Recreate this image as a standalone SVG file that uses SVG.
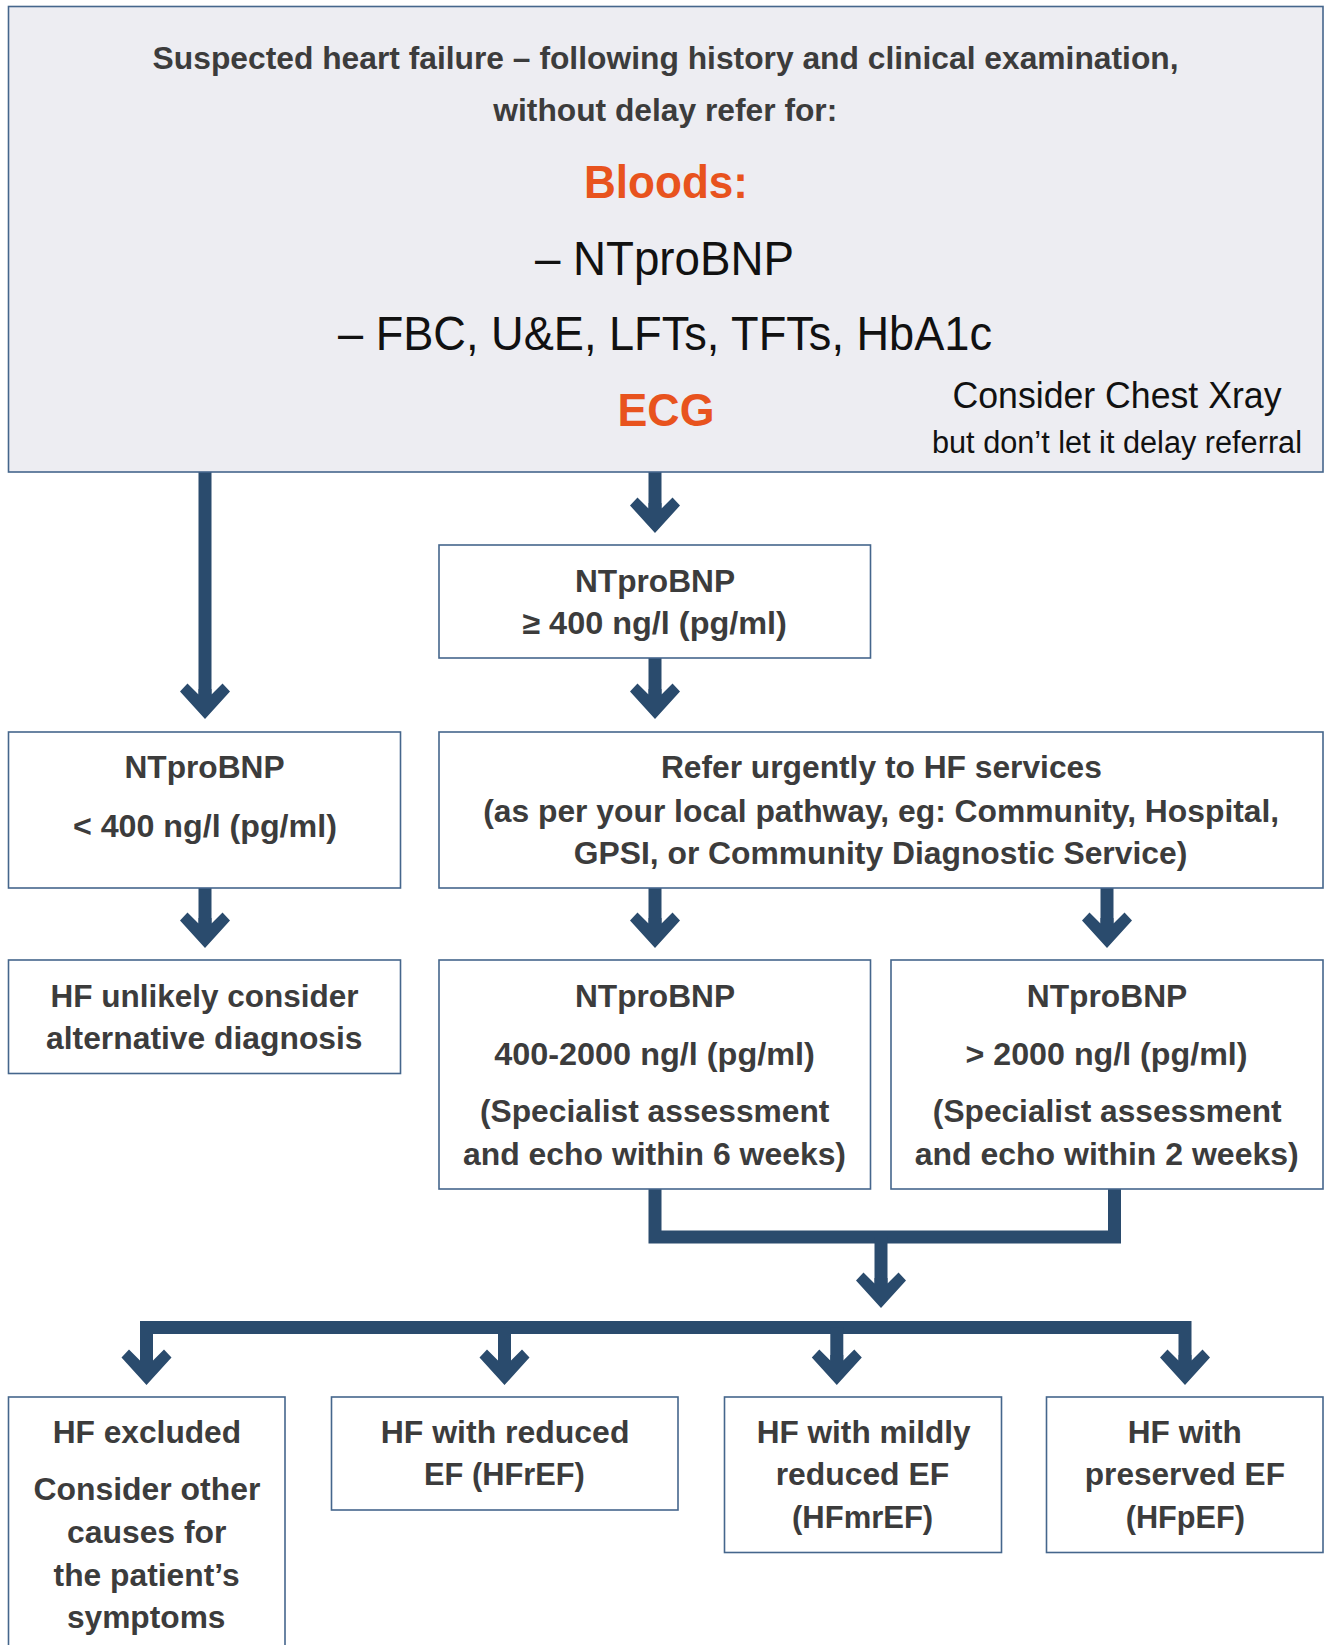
<svg xmlns="http://www.w3.org/2000/svg" xmlns:xlink="http://www.w3.org/1999/xlink" width="1325" height="1645" viewBox="0 0 1325 1645">
<style>
.box{fill:#ffffff;stroke:#45668c;stroke-width:1.6}
.topbox{fill:#ededf2;stroke:#45668c;stroke-width:1.6}
.t{font-family:"Liberation Sans",Arial,Helvetica,sans-serif;font-weight:bold;font-size:31.5px;fill:#3c3c3c;text-anchor:middle}
.big{font-family:"Liberation Sans",Arial,Helvetica,sans-serif;font-size:48px;fill:#111111;text-anchor:middle}
.or{font-family:"Liberation Sans",Arial,Helvetica,sans-serif;font-weight:bold;font-size:47px;fill:#e8531e;text-anchor:middle}
.reg{font-family:"Liberation Sans",Arial,Helvetica,sans-serif;font-size:36.5px;fill:#111111;text-anchor:middle}
.sm{font-family:"Liberation Sans",Arial,Helvetica,sans-serif;font-size:31px;fill:#111111;text-anchor:middle}
.c{fill:none;stroke:#2a4b6d;stroke-width:13;stroke-linejoin:miter;stroke-linecap:butt}
.ah{fill:#2a4b6d}
</style>
<defs>
<path id="ah" d="M0,0 L-25,-27.5 L-17.5,-35.5 L-6.5,-24.5 L-6.5,-30 L6.5,-30 L6.5,-24.5 L17.5,-35.5 L25,-27.5 Z"/>
</defs>

<g id="connectors">
<path class="c" d="M205,472 V700"/>
<use href="#ah" class="ah" x="205" y="719"/>
<path class="c" d="M655,472 V512"/>
<use href="#ah" class="ah" x="655" y="533"/>
<path class="c" d="M655,658 V700"/>
<use href="#ah" class="ah" x="655" y="719"/>
<path class="c" d="M205,888 V928"/>
<use href="#ah" class="ah" x="205" y="948"/>
<path class="c" d="M655,888 V928"/>
<use href="#ah" class="ah" x="655" y="948"/>
<path class="c" d="M1107,888 V928"/>
<use href="#ah" class="ah" x="1107" y="948"/>
<path class="c" d="M655,1189 V1237 H1114.5 V1189"/>
<path class="c" d="M881,1237 V1288"/>
<use href="#ah" class="ah" x="881" y="1308"/>
<path class="c" d="M146.5,1366 V1327.5 H1185 V1366"/>
<path class="c" d="M504.5,1327.5 V1366"/>
<path class="c" d="M836.8,1327.5 V1366"/>
<use href="#ah" class="ah" x="146.5" y="1385"/>
<use href="#ah" class="ah" x="504.5" y="1385"/>
<use href="#ah" class="ah" x="836.8" y="1385"/>
<use href="#ah" class="ah" x="1185" y="1385"/>
</g>

<g id="node-start">
<rect class="topbox" x="8.5" y="6.5" width="1314.5" height="465.5"/>
<text class="t" x="665.6" y="69.3" textLength="1026" lengthAdjust="spacingAndGlyphs">Suspected heart failure – following history and clinical examination,</text>
<text class="t" x="665.3" y="120.7" textLength="344" lengthAdjust="spacingAndGlyphs">without delay refer for:</text>
<text class="or" x="666" y="198.3" textLength="164" lengthAdjust="spacingAndGlyphs">Bloods:</text>
<text class="big" x="664.4" y="275" textLength="259" lengthAdjust="spacingAndGlyphs">– NTproBNP</text>
<text class="big" x="665" y="350" textLength="654" lengthAdjust="spacingAndGlyphs">– FBC, U&amp;E, LFTs, TFTs, HbA1c</text>
<text class="or" x="666" y="426" textLength="97" lengthAdjust="spacingAndGlyphs">ECG</text>
<text class="reg" x="1117" y="408.3" textLength="329" lengthAdjust="spacingAndGlyphs">Consider Chest Xray</text>
<text class="sm" x="1117" y="452.7" textLength="370" lengthAdjust="spacingAndGlyphs">but don’t let it delay referral</text>
</g>

<g id="node-ge400">
<rect class="box" x="439" y="545" width="431.5" height="113"/>
<text class="t" x="655" y="591.7" textLength="160" lengthAdjust="spacingAndGlyphs">NTproBNP</text>
<text class="t" x="654.6" y="634.3" textLength="264.6" lengthAdjust="spacingAndGlyphs">≥ 400 ng/l (pg/ml)</text>
</g>

<g id="node-lt400">
<rect class="box" x="8.5" y="732" width="392" height="156"/>
<text class="t" x="204.5" y="778.3" textLength="160" lengthAdjust="spacingAndGlyphs">NTproBNP</text>
<text class="t" x="204.9" y="836.7" textLength="264" lengthAdjust="spacingAndGlyphs">&lt; 400 ng/l (pg/ml)</text>
</g>

<g id="node-refer">
<rect class="box" x="439" y="732" width="884" height="156"/>
<text class="t" x="881.4" y="778.3" textLength="441" lengthAdjust="spacingAndGlyphs">Refer urgently to HF services</text>
<text class="t" x="881.2" y="821.7" textLength="796" lengthAdjust="spacingAndGlyphs">(as per your local pathway, eg: Community, Hospital,</text>
<text class="t" x="880.5" y="864" textLength="613.5" lengthAdjust="spacingAndGlyphs">GPSI, or Community Diagnostic Service)</text>
</g>

<g id="node-unlikely">
<rect class="box" x="8.5" y="960" width="392" height="113.5"/>
<text class="t" x="204.5" y="1006.7" textLength="308" lengthAdjust="spacingAndGlyphs">HF unlikely consider</text>
<text class="t" x="204.3" y="1049.3" textLength="316.5" lengthAdjust="spacingAndGlyphs">alternative diagnosis</text>
</g>

<g id="node-400-2000">
<rect class="box" x="439" y="960" width="431.5" height="229"/>
<text class="t" x="655" y="1006.7" textLength="160" lengthAdjust="spacingAndGlyphs">NTproBNP</text>
<text class="t" x="654.5" y="1065" textLength="320.7" lengthAdjust="spacingAndGlyphs">400-2000 ng/l (pg/ml)</text>
<text class="t" x="654.7" y="1121.7" textLength="349.5" lengthAdjust="spacingAndGlyphs">(Specialist assessment</text>
<text class="t" x="654.5" y="1165" textLength="383" lengthAdjust="spacingAndGlyphs">and echo within 6 weeks)</text>
</g>

<g id="node-gt2000">
<rect class="box" x="891" y="960" width="432" height="229"/>
<text class="t" x="1107" y="1006.7" textLength="160.5" lengthAdjust="spacingAndGlyphs">NTproBNP</text>
<text class="t" x="1106.5" y="1065" textLength="282" lengthAdjust="spacingAndGlyphs">&gt; 2000 ng/l (pg/ml)</text>
<text class="t" x="1107.2" y="1121.7" textLength="348.7" lengthAdjust="spacingAndGlyphs">(Specialist assessment</text>
<text class="t" x="1106.7" y="1165" textLength="384" lengthAdjust="spacingAndGlyphs">and echo within 2 weeks)</text>
</g>

<g id="node-excluded">
<rect class="box" x="8.5" y="1397" width="276.5" height="260"/>
<text class="t" x="146.9" y="1443.3" textLength="188.4" lengthAdjust="spacingAndGlyphs">HF excluded</text>
<text class="t" x="146.9" y="1500" textLength="226.8" lengthAdjust="spacingAndGlyphs">Consider other</text>
<text class="t" x="146.7" y="1542.7" textLength="159.4" lengthAdjust="spacingAndGlyphs">causes for</text>
<text class="t" x="146.6" y="1586" textLength="186" lengthAdjust="spacingAndGlyphs">the patient’s</text>
<text class="t" x="146.2" y="1628.3" textLength="158.5" lengthAdjust="spacingAndGlyphs">symptoms</text>
</g>

<g id="node-hfref">
<rect class="box" x="331.5" y="1397" width="346.5" height="113"/>
<text class="t" x="505.1" y="1443.3" textLength="248.7" lengthAdjust="spacingAndGlyphs">HF with reduced</text>
<text class="t" x="504.4" y="1485" textLength="160.7" lengthAdjust="spacingAndGlyphs">EF (HFrEF)</text>
</g>

<g id="node-hfmref">
<rect class="box" x="724.5" y="1397" width="277" height="155.5"/>
<text class="t" x="863.7" y="1443.3" textLength="214" lengthAdjust="spacingAndGlyphs">HF with mildly</text>
<text class="t" x="862.4" y="1485" textLength="173.5" lengthAdjust="spacingAndGlyphs">reduced EF</text>
<text class="t" x="862.6" y="1528.3" textLength="141.2" lengthAdjust="spacingAndGlyphs">(HFmrEF)</text>
</g>

<g id="node-hfpef">
<rect class="box" x="1046.5" y="1397" width="276.5" height="155.5"/>
<text class="t" x="1184.8" y="1443.3" textLength="114" lengthAdjust="spacingAndGlyphs">HF with</text>
<text class="t" x="1184.9" y="1485" textLength="200.2" lengthAdjust="spacingAndGlyphs">preserved EF</text>
<text class="t" x="1185.3" y="1528.3" textLength="119.2" lengthAdjust="spacingAndGlyphs">(HFpEF)</text>
</g>
</svg>
